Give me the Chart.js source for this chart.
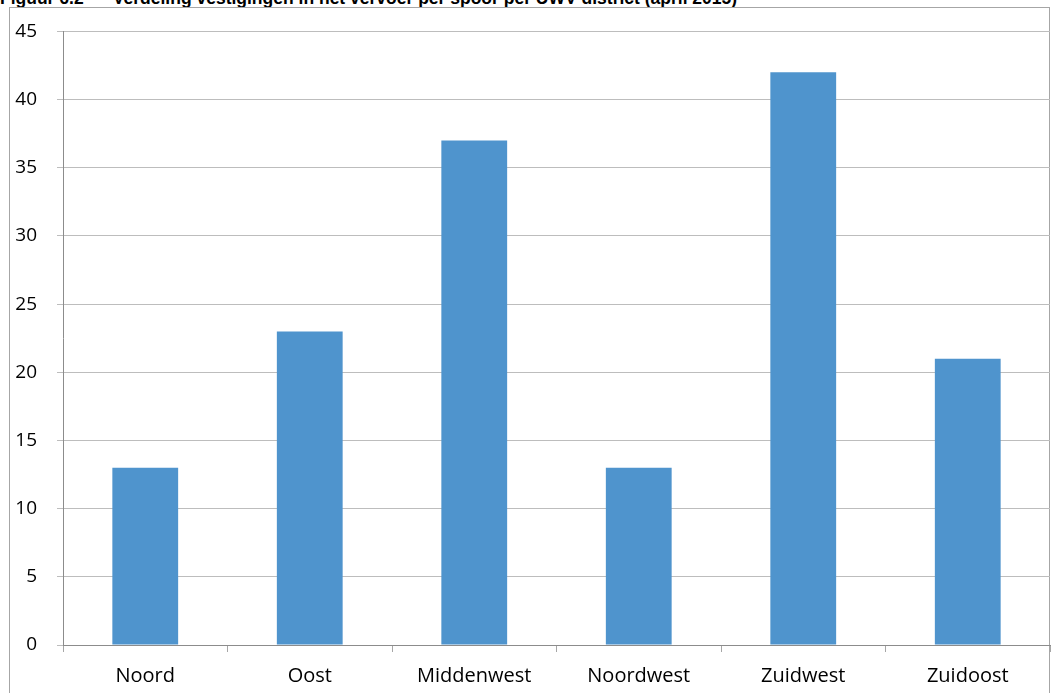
<!DOCTYPE html>
<html>
<head>
<meta charset="utf-8">
<script src="https://cdn.jsdelivr.net/npm/chart.js@4/dist/chart.umd.min.js"></script>
<style>
  html, body { margin: 0; padding: 0; background: #fff; overflow: hidden; }
  body { width: 1054px; height: 693px; position: relative; }
  #title {
    position: absolute; left: 0; top: -12px; white-space: nowrap;
    font: bold 17.5px "Liberation Sans", Arial, sans-serif; color: #000;
  }
  #frame {
    position: absolute; left: 9px; top: 7px; width: 1041px; height: 700px;
    border: 1px solid #a6a6a6; box-sizing: border-box;
  }
  #wrap { position: absolute; left: 0; top: 0; width: 1054px; height: 693px; }
</style>
</head>
<body>
<div id="title">Figuur 6.2&nbsp;&nbsp;&nbsp;&nbsp;&nbsp;&nbsp;Verdeling vestigingen in het vervoer per spoor per UWV-district (april 2015)</div>
<div id="frame"></div>
<div id="wrap"><canvas id="chart"></canvas></div>
<script>
const districts = ['Noord', 'Oost', 'Middenwest', 'Noordwest', 'Zuidwest', 'Zuidoost'];
const vestigingen = [13, 23, 37, 13, 42, 21];
const yTicks = [0, 5, 10, 15, 20, 25, 30, 35, 40, 45];

const ctx = document.getElementById('chart').getContext('2d');
new Chart(ctx, {
    type: 'bar',
    data: {
        labels: districts,
        datasets: [{
            label: 'Vestigingen',
            data: vestigingen,
            backgroundColor: '#4f94cd',
            borderWidth: 0,
            categoryPercentage: 1,
            barPercentage: 0.4
        }]
    },
    options: {
        responsive: true,
        maintainAspectRatio: false,
        animation: false,
        layout: { padding: { left: 0, right: 4, top: 30, bottom: 0 } },
        plugins: {
            legend: { display: false },
            tooltip: { enabled: false }
        },
        scales: {
            x: {
                grid: {
                    display: true,
                    drawOnChartArea: false,
                    drawTicks: true,
                    tickLength: 7,
                    offset: true,
                    color: '#a6a6a6'
                },
                border: { color: '#8c8c8c', width: 1 },
                ticks: {
                    color: '#000',
                    font: { family: '"Open Sans", sans-serif', size: 20 },
                    padding: 12,
                    maxRotation: 0
                },
                afterFit: function (axis) { axis.height = 48; }
            },
            y: {
                min: 0,
                max: 45,
                afterBuildTicks: function (axis) {
                    axis.ticks = yTicks.map(function (v) { return { value: v }; });
                },
                grid: {
                    color: '#bdbdbd',
                    tickLength: 6,
                    drawTicks: true
                },
                border: { color: '#8c8c8c', width: 1 },
                ticks: {
                    color: '#000',
                    font: { family: '"Open Sans", sans-serif', size: 19 },
                    padding: 20
                },
                afterFit: function (axis) { axis.width = 63; }
            }
        }
    }
});
</script>
</body>
</html>
